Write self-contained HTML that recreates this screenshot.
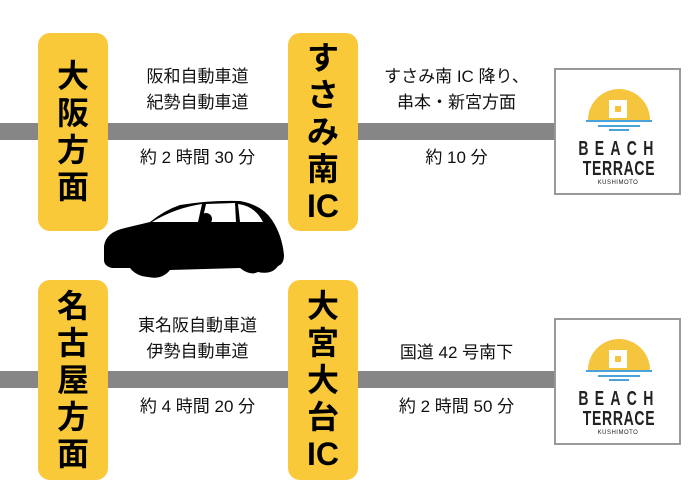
<!DOCTYPE html>
<html><head><meta charset="utf-8"><style>
*{margin:0;padding:0}
body{width:700px;height:500px;background:#fff;position:relative;overflow:hidden;font-family:"Liberation Sans","Noto Sans CJK JP",sans-serif}
.bar{position:absolute;left:0;width:555px;height:17px;background:#868686}
.y{position:absolute;width:70px;background:#f9c93a;border-radius:12px;font-weight:bold;font-size:32px;line-height:37px;text-align:center;color:#000;display:flex;flex-direction:column;justify-content:center}
.t{position:absolute;font-size:17px;line-height:26px;text-align:center;color:#111;white-space:nowrap}
.logo{position:absolute;width:123px;height:123px;border:2px solid #999;background:#fff}
</style></head><body>
<div class="bar" style="top:123px"></div>
<div class="bar" style="top:371px"></div>

<div class="y" style="left:38px;top:33px;height:198px">大<br>阪<br>方<br>面</div>
<div class="y" style="left:288px;top:33px;height:198px">す<br>さ<br>み<br>南<br>IC</div>
<div class="y" style="left:38px;top:280px;height:200px">名<br>古<br>屋<br>方<br>面</div>
<div class="y" style="left:288px;top:280px;height:200px">大<br>宮<br>大<br>台<br>IC</div>

<div class="t" style="left:107px;width:181px;top:64px">阪和自動車道<br>紀勢自動車道</div>
<div class="t" style="left:107px;width:181px;top:145px">約 2 時間 30 分</div>
<div class="t" style="left:358px;width:197px;top:64px">すさみ南 IC 降り、<br>串本・新宮方面</div>
<div class="t" style="left:358px;width:197px;top:145px">約 10 分</div>
<div class="t" style="left:107px;width:181px;top:313px">東名阪自動車道<br>伊勢自動車道</div>
<div class="t" style="left:107px;width:181px;top:394px">約 4 時間 20 分</div>
<div class="t" style="left:358px;width:197px;top:340px">国道 42 号南下</div>
<div class="t" style="left:358px;width:197px;top:394px">約 2 時間 50 分</div>

<svg style="position:absolute;left:0;top:0" width="700" height="500">
<path d="M104 246 Q106 232 125 228 L150 222 Q165 210 180 205 Q210 200 240 201 Q262 205 272 220 Q282 235 284 255 Q284 264 278 266 Q272 275 258 272 Q250 276 240 268 L170 270 Q162 280 148 277 Q136 276 130 268 L112 268 Q104 266 104 260 Z" fill="#000"/>
<path d="M152 222 Q175 208 202 204 L198 222 Z" fill="#fff"/>
<path d="M202 222 L206 204 L235 203 L236 222 Z" fill="#fff"/>
<path d="M240 222 L238 204 Q255 206 263 222 Z" fill="#fff"/>
<circle cx="206" cy="219" r="6" fill="#000"/>
</svg>

<div class="logo" style="left:554px;top:68px">
 <svg width="123" height="123" viewBox="0 0 123 123">
  <path d="M32 50 A31 31 0 0 1 94 50 Z" fill="#f5c53d"/>
  <rect x="53" y="30" width="18" height="18" fill="#fff"/>
  <rect x="59" y="36" width="6" height="6" fill="#f5c53d"/>
  <rect x="30" y="50" width="66" height="2" fill="#4aa3d8"/>
  <rect x="42" y="55" width="42" height="2" fill="#4aa3d8"/>
  <rect x="53" y="59" width="20" height="2" fill="#4aa3d8"/>
  <g transform="translate(63,0) scale(0.7,1)"><text x="0" y="85" text-anchor="middle" font-family="Liberation Sans" font-weight="bold" font-size="20" letter-spacing="9" fill="#222">BEACH</text>
  <text x="0" y="105" text-anchor="middle" font-family="Liberation Sans" font-weight="bold" font-size="20" letter-spacing="1" fill="#222">TERRACE</text></g>
  <text x="62" y="114" text-anchor="middle" font-family="Liberation Sans" font-size="6" letter-spacing="0.5" fill="#222">KUSHIMOTO</text>
 </svg>
</div>
<div class="logo" style="left:554px;top:318px">
 <svg width="123" height="123" viewBox="0 0 123 123">
  <path d="M32 50 A31 31 0 0 1 94 50 Z" fill="#f5c53d"/>
  <rect x="53" y="30" width="18" height="18" fill="#fff"/>
  <rect x="59" y="36" width="6" height="6" fill="#f5c53d"/>
  <rect x="30" y="50" width="66" height="2" fill="#4aa3d8"/>
  <rect x="42" y="55" width="42" height="2" fill="#4aa3d8"/>
  <rect x="53" y="59" width="20" height="2" fill="#4aa3d8"/>
  <g transform="translate(63,0) scale(0.7,1)"><text x="0" y="85" text-anchor="middle" font-family="Liberation Sans" font-weight="bold" font-size="20" letter-spacing="9" fill="#222">BEACH</text>
  <text x="0" y="105" text-anchor="middle" font-family="Liberation Sans" font-weight="bold" font-size="20" letter-spacing="1" fill="#222">TERRACE</text></g>
  <text x="62" y="114" text-anchor="middle" font-family="Liberation Sans" font-size="6" letter-spacing="0.5" fill="#222">KUSHIMOTO</text>
 </svg>
</div>
</body></html>
